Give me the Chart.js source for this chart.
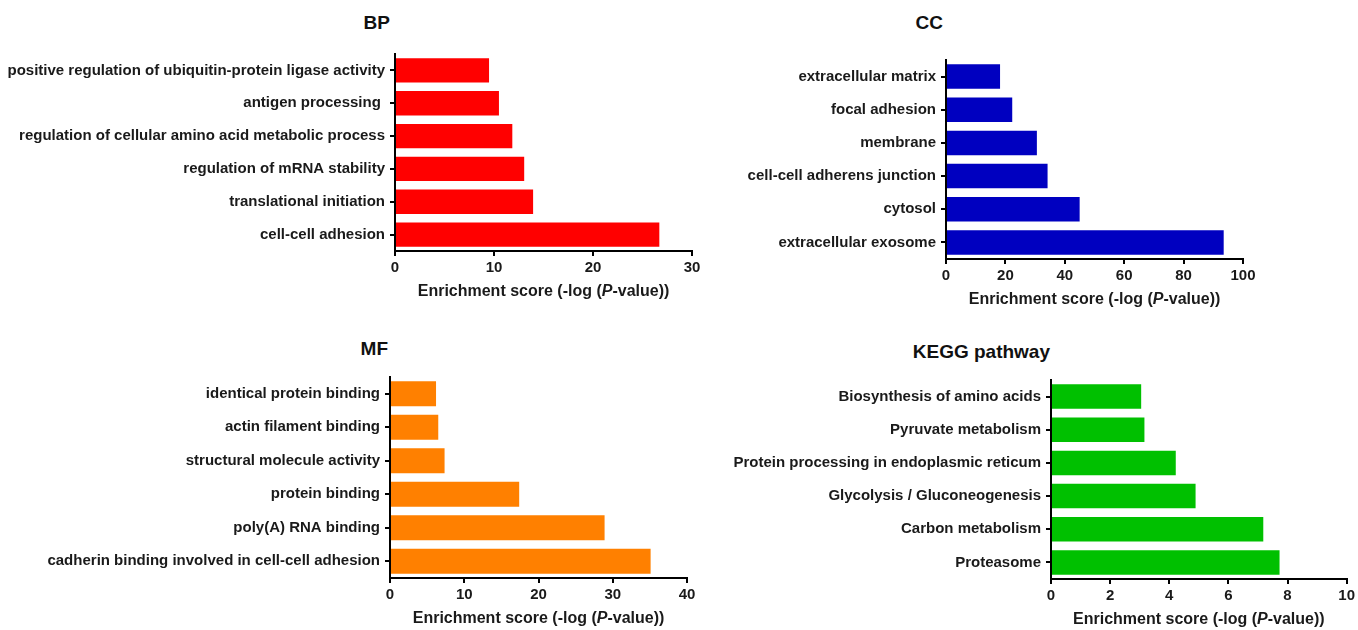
<!DOCTYPE html>
<html>
<head>
<meta charset="utf-8">
<script src="https://cdn.jsdelivr.net/npm/chart.js@4.4.1/dist/chart.umd.min.js"></script>
<style>
  body { margin: 0; background: #fff; }
  #wrap { position: relative; width: 1358px; height: 630px; overflow: hidden; }
  canvas { position: absolute; }
  .ttl { position: absolute; font: bold 19px "Liberation Sans", Arial, sans-serif; color: #111; text-align: right; line-height: 20px; }
</style>
</head>
<body>
<div id="wrap">
  <div class="ttl" style="left:300px;width:90px;top:13px;">BP</div>
  <div class="ttl" style="left:850px;width:93px;top:13px;">CC</div>
  <div class="ttl" style="left:300px;width:88px;top:339px;">MF</div>
  <div class="ttl" style="left:850px;width:200px;top:342px;">KEGG pathway</div>
  <canvas id="bp"></canvas>
  <canvas id="cc"></canvas>
  <canvas id="mf"></canvas>
  <canvas id="kegg"></canvas>
</div>
<script>
const bpTerms = [
  "positive regulation of ubiquitin-protein ligase activity",
  "antigen processing ",
  "regulation of cellular amino acid metabolic process",
  "regulation of mRNA stability",
  "translational initiation",
  "cell-cell adhesion"
];
const bpScores = [9.5, 10.5, 11.85, 13.05, 13.95, 26.7];

const ccTerms = [
  "extracellular matrix",
  "focal adhesion",
  "membrane",
  "cell-cell adherens junction",
  "cytosol",
  "extracellular exosome"
];
const ccScores = [18.2, 22.3, 30.6, 34.2, 45.0, 93.5];

const mfTerms = [
  "identical protein binding",
  "actin filament binding",
  "structural molecule activity",
  "protein binding",
  "poly(A) RNA binding",
  "cadherin binding involved in cell-cell adhesion"
];
const mfScores = [6.2, 6.5, 7.35, 17.4, 28.9, 35.1];

const keggTerms = [
  "Biosynthesis of amino acids",
  "Pyruvate metabolism",
  "Protein processing in endoplasmic reticum",
  "Glycolysis / Gluconeogenesis",
  "Carbon metabolism",
  "Proteasome"
];
const keggScores = [3.05, 3.16, 4.22, 4.89, 7.18, 7.73];

const FONT = "'Liberation Sans', Arial, sans-serif";

// draws the x title with an italic P
const xTitle = {
  id: "xTitle",
  afterDraw(chart) {
    const ctx = chart.ctx;
    const a = chart.chartArea;
    const parts = [
      ["bold 16px " + FONT, "Enrichment score (-log ("],
      ["italic bold 16px " + FONT, "P"],
      ["bold 16px " + FONT, "-value))"]
    ];
    let total = 0;
    parts.forEach(p => { ctx.font = p[0]; total += ctx.measureText(p[1]).width; });
    let x = (a.left + a.right) / 2 - total / 2;
    const y = a.bottom + 41;
    ctx.save();
    ctx.fillStyle = "#1a1a1a";
    ctx.textBaseline = "middle";
    parts.forEach(p => {
      ctx.font = p[0];
      ctx.fillText(p[1], x, y);
      x += ctx.measureText(p[1]).width;
    });
    ctx.restore();
  }
};

function makeChart(id, box, terms, scores, color, max, step) {
  const cv = document.getElementById(id);
  cv.style.left = box.left + "px";
  cv.style.top = box.top + "px";
  cv.style.width = box.width + "px";
  cv.style.height = box.height + "px";
  const yW = box.plotLeft - box.left;
  const xH = box.top + box.height - box.plotBottom;
  return new Chart(cv, {
    type: "bar",
    data: {
      labels: terms,
      datasets: [{
        data: scores,
        backgroundColor: color,
        borderWidth: 0,
        barPercentage: 0.74,
        categoryPercentage: 1
      }]
    },
    options: {
      indexAxis: "y",
      responsive: false,
      animation: false,
      layout: { padding: { top: box.plotTop - box.top, right: box.left + box.width - box.plotRight, left: 0, bottom: 0 } },
      plugins: { legend: { display: false }, tooltip: { enabled: false } },
      scales: {
        x: {
          min: 0, max: max,
          afterFit(s) { s.height = xH; },
          border: { display: true, color: "#000", width: 2 },
          grid: { display: true, drawOnChartArea: false, drawTicks: true, tickLength: 5, color: "#000", lineWidth: 2 },
          ticks: { stepSize: step, color: "#1a1a1a", padding: 3, font: { family: FONT, size: 15, weight: "bold" } }
        },
        y: {
          afterFit(s) { s.width = yW; },
          border: { display: true, color: "#000", width: 2 },
          grid: { display: true, offset: false, drawOnChartArea: false, drawTicks: true, tickLength: 5, color: "#000", lineWidth: 2 },
          ticks: { color: "#1a1a1a", padding: 5, autoSkip: false, font: { family: FONT, size: 15, weight: "bold" } }
        }
      }
    },
    plugins: [xTitle]
  });
}

makeChart("bp", { left: 0, top: 40, width: 710, height: 280, plotLeft: 395, plotTop: 53, plotRight: 692, plotBottom: 251 },
  bpTerms, bpScores, "#ff0000", 30, 10);
makeChart("cc", { left: 700, top: 40, width: 658, height: 290, plotLeft: 946, plotTop: 60, plotRight: 1243, plotBottom: 259 },
  ccTerms, ccScores, "#0000c0", 100, 20);
makeChart("mf", { left: 0, top: 330, width: 710, height: 300, plotLeft: 390, plotTop: 377, plotRight: 687, plotBottom: 578 },
  mfTerms, mfScores, "#ff8000", 40, 10);
makeChart("kegg", { left: 700, top: 330, width: 658, height: 300, plotLeft: 1051, plotTop: 380, plotRight: 1348, plotBottom: 579 },
  keggTerms, keggScores, "#00c000", 10, 2);
</script>
</body>
</html>
